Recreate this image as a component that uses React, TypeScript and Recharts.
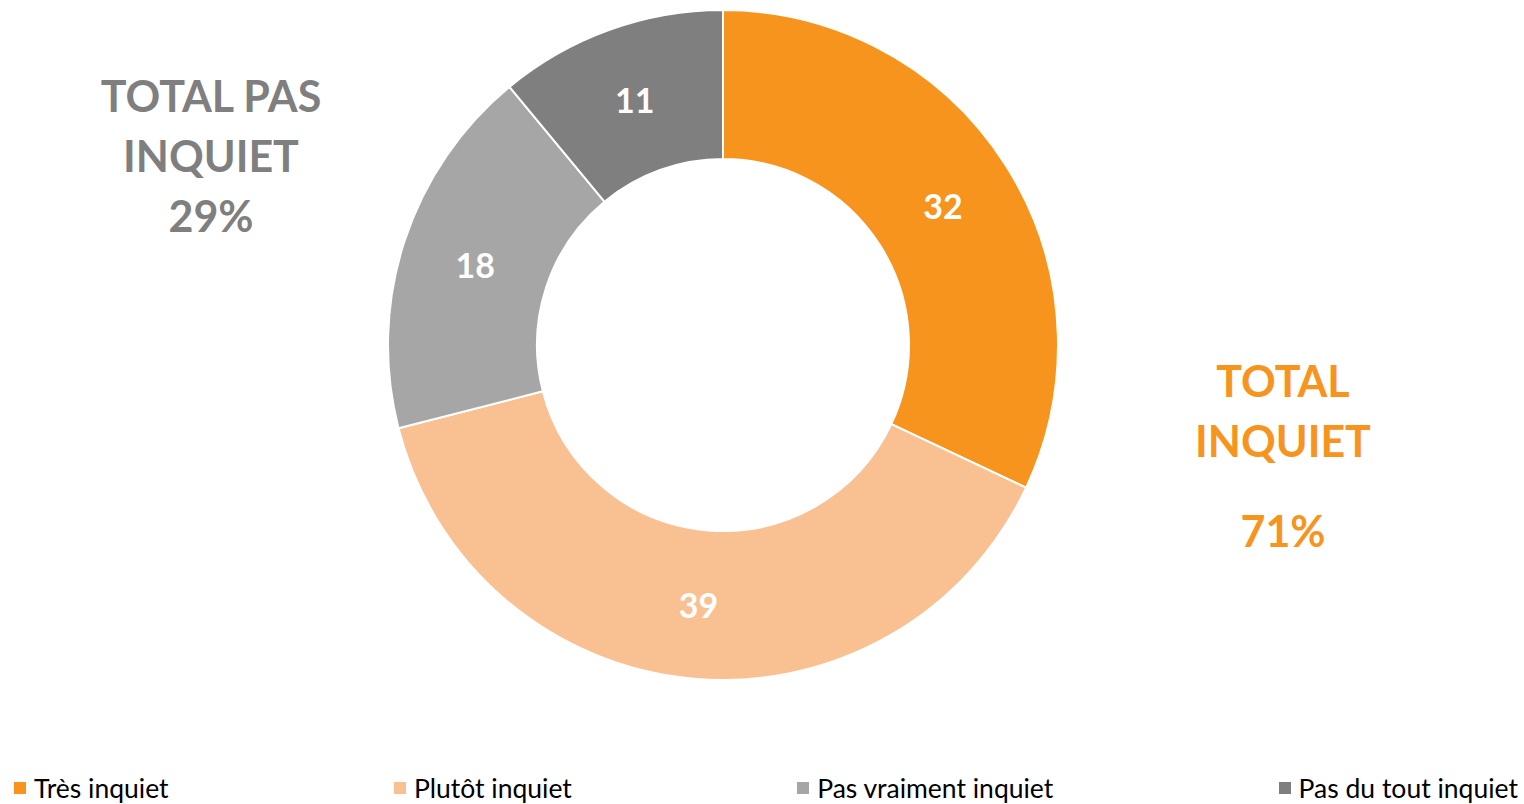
import React from 'react';
import { PieChart, Pie, Cell, Legend } from 'recharts';

const categories = ['Très inquiet', 'Plutôt inquiet', 'Pas vraiment inquiet', 'Pas du tout inquiet'];
const values = [32, 39, 18, 11];
const colors = ['#F7941D', '#F9C192', '#A6A6A6', '#7F7F7F'];

const totalLabels = [
  { lines: ['TOTAL PAS', 'INQUIET', '29%'], color: '#7F7F7F' },
  { lines: ['TOTAL', 'INQUIET', '', '71%'], color: '#F7941D' },
];

const data = categories.map((name, i) => ({ name, value: values[i] }));

const FONT = 'Lato, "Open Sans", sans-serif';
const RADIAN = Math.PI / 180;

const renderLabel = (props: any) => {
  const { cx, cy, midAngle, innerRadius, outerRadius, value } = props;
  const r = (innerRadius + outerRadius) / 2;
  const x = cx + r * Math.cos(-midAngle * RADIAN);
  const y = cy + r * Math.sin(-midAngle * RADIAN);
  return (
    <text x={x} y={y} fill="#fff" textAnchor="middle" dominantBaseline="central"
      style={{ fontFamily: FONT, fontWeight: 700, fontSize: 34 }}>
      {value}
    </text>
  );
};

const LegendContent = () => (
  <div style={{ display: 'flex', justifyContent: 'space-between', fontFamily: FONT, fontSize: 26.5, color: '#000', padding: '0 6px 0 14px' }}>
    {categories.map((c, i) => (
      <div key={c} style={{ display: 'flex', alignItems: 'center' }}>
        <span style={{ width: 12, height: 12, background: colors[i], display: 'inline-block', marginRight: 8 }} />
        <span>{c}</span>
      </div>
    ))}
  </div>
);

const TotalBlock = ({ left, top, lines, color }: any) => (
  <div style={{ position: 'absolute', left: left - 200, top, width: 400, textAlign: 'center', fontFamily: FONT, fontWeight: 700, fontSize: 43, lineHeight: '60px', color }}>
    {lines.map((l: string, i: number) => (
      <div key={i} style={{ height: l === '' ? 30 : 60 }}>{l}</div>
    ))}
  </div>
);

export default function App() {
  return (
    <div style={{ position: 'absolute', left: 0, top: 0, width: 1524, height: 804, background: '#fff' }}>
      <PieChart width={1524} height={804} margin={{ top: 0, right: 0, bottom: 0, left: 0 }}>
        <Pie data={data} dataKey="value" nameKey="name" cx={723} cy={345}
          innerRadius={186} outerRadius={335} startAngle={90} endAngle={-270}
          stroke="#fff" strokeWidth={2} label={renderLabel} labelLine={false}
          isAnimationActive={false}>
          {data.map((d, i) => <Cell key={d.name} fill={colors[i]} />)}
        </Pie>
        <Legend verticalAlign="bottom" align="left" content={<LegendContent />}
          wrapperStyle={{ left: 0, bottom: 0, width: 1524, height: 32 }} />
      </PieChart>
      <TotalBlock left={211} top={66} {...totalLabels[0]} />
      <TotalBlock left={1283} top={351} {...totalLabels[1]} />
    </div>
  );
}
